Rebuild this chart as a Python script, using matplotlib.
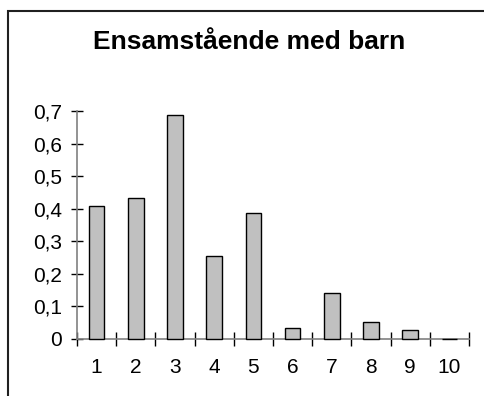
import matplotlib.pyplot as plt
import matplotlib.patches as patches
from matplotlib.ticker import FuncFormatter, FixedLocator
import numpy as np

plt.rcParams['font.family'] = ['Liberation Sans', 'DejaVu Sans']

# Andelar per kategori
kategorier = ['1', '2', '3', '4', '5', '6', '7', '8', '9', '10']
andel = [0.407, 0.433, 0.689, 0.255, 0.386, 0.033, 0.140, 0.051, 0.027, 0.001]
y_ticks = [0, 0.1, 0.2, 0.3, 0.4, 0.5, 0.6, 0.7]

fig = plt.figure(figsize=(4.85, 3.96), dpi=100)

# ram runt diagrammet
ram = patches.Rectangle((8.5 / 485, -0.1), 1.2, 1.1 - 10.5 / 396,
                        transform=fig.transFigure, fill=False,
                        edgecolor='#202020', linewidth=1.5)
fig.patches.append(ram)

ax = fig.add_axes([77 / 485, 57 / 396, 392 / 485, 228 / 396])
x = np.arange(len(kategorier))
ax.bar(x, andel, width=0.4, color='#c0c0c0', edgecolor='black', linewidth=1,
       zorder=3, clip_on=False)

ax.set_xlim(-0.5, len(kategorier) - 0.5)
ax.set_ylim(0, 0.7)

for s in ['top', 'right']:
    ax.spines[s].set_visible(False)
for s in ['left', 'bottom']:
    ax.spines[s].set_color('#808080')
    ax.spines[s].set_linewidth(1.2)

ax.set_yticks(y_ticks)
ax.yaxis.set_major_formatter(FuncFormatter(lambda v, p: ('%g' % round(v, 1)).replace('.', ',')))
ax.tick_params(axis='y', direction='inout', length=9, width=1, color='black',
               labelsize=15, pad=6.5)

# streck mellan kategorierna, etiketter i mitten
ax.xaxis.set_major_locator(FixedLocator(np.arange(-0.5, len(kategorier), 1.0)))
ax.xaxis.set_minor_locator(FixedLocator(x))
ax.set_xticklabels([], minor=False)
ax.set_xticklabels(kategorier, minor=True)
ax.tick_params(axis='x', which='major', direction='inout', length=10, width=1, color='black')
ax.tick_params(axis='x', which='minor', length=0, labelsize=15, pad=13.5)

fig.text(249 / 485, 1 - 49.3 / 396, 'Ensamstående med barn', ha='center', va='baseline',
         fontsize=19, fontweight='bold')

fig.savefig('out.png', dpi=100)
